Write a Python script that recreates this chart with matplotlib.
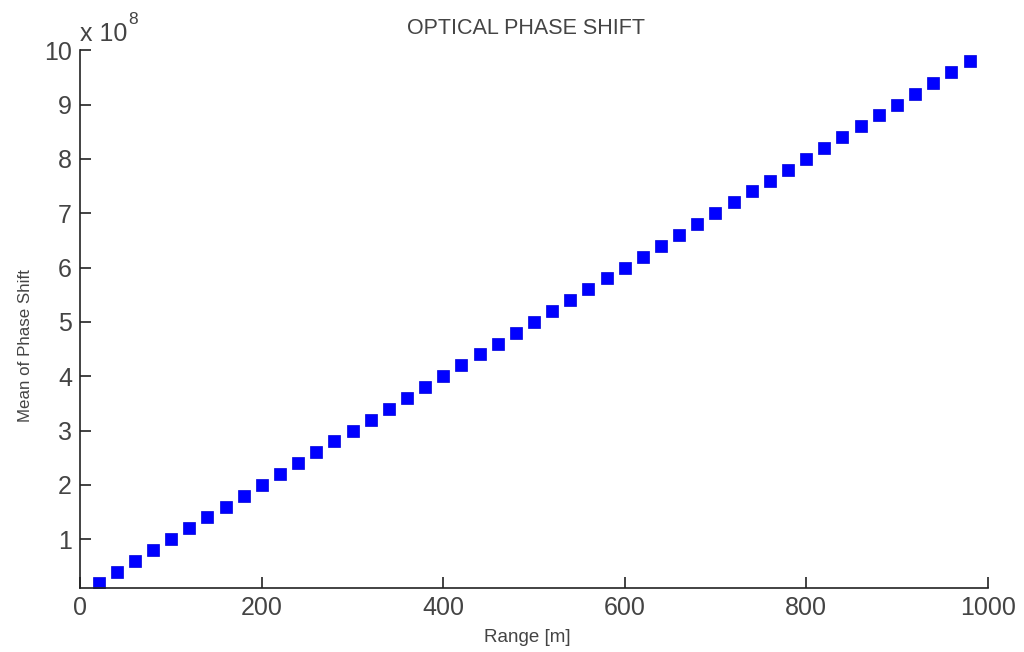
import numpy as np
import matplotlib
matplotlib.use("Agg")
import matplotlib.pyplot as plt

plt.rcParams['font.family'] = ['Liberation Sans', 'DejaVu Sans']

# range in metres
range_m = [20, 40, 60, 80, 100, 120, 140, 160, 180, 200,
           220, 240, 260, 280, 300, 320, 340, 360, 380, 400,
           420, 440, 460, 480, 500, 520, 540, 560, 580, 600,
           620, 640, 660, 680, 700, 720, 740, 760, 780, 800,
           820, 840, 860, 880, 900, 920, 940, 960, 980]
# mean phase shift, in units of 1e8
phase_mean = [0.2, 0.4, 0.6, 0.8, 1.0, 1.2, 1.4, 1.6, 1.8, 2.0,
              2.2, 2.4, 2.6, 2.8, 3.0, 3.2, 3.4, 3.6, 3.8, 4.0,
              4.2, 4.4, 4.6, 4.8, 5.0, 5.2, 5.4, 5.6, 5.8, 6.0,
              6.2, 6.4, 6.6, 6.8, 7.0, 7.2, 7.4, 7.6, 7.8, 8.0,
              8.2, 8.4, 8.6, 8.8, 9.0, 9.2, 9.4, 9.6, 9.8]
x_ticks = [0, 200, 400, 600, 800, 1000]
y_ticks = [1, 2, 3, 4, 5, 6, 7, 8, 9, 10]

txt_col = "#444444"

fig = plt.figure(figsize=(10.24, 6.52), dpi=100)
ax = fig.add_axes([0.0785, 0.098, 0.886, 0.825])

ax.plot(range_m, phase_mean, linestyle="none", marker="s", markersize=8.5,
        color=(0, 0, 1), markeredgecolor=(0, 0, 0.85), markeredgewidth=0.5)

ax.set_xlim(0, 1000)
ax.set_ylim(0.1, 10)
ax.set_xticks(x_ticks)
ax.set_yticks(y_ticks)
ax.set_xticklabels([str(t) for t in x_ticks])
ax.set_yticklabels([str(t) for t in y_ticks])

ax.spines['top'].set_visible(False)
ax.spines['right'].set_visible(False)
for s in ['left', 'bottom']:
    ax.spines[s].set_linewidth(1.2)
    ax.spines[s].set_color("#222222")
ax.tick_params(direction="in", length=8, width=1.2, color="#222222",
               labelsize=18, labelcolor=txt_col, pad=6)

ax.set_title("OPTICAL PHASE SHIFT", fontsize=15.5, color=txt_col,
             x=0.491, pad=12)
ax.set_xlabel("Range [m]", fontsize=13.5, color=txt_col)
ax.set_ylabel("Mean of Phase Shift", fontsize=12.2, color=txt_col)
ax.xaxis.set_label_coords(0.493, -0.076)
ax.yaxis.set_label_coords(-0.052, 0.45)

# exponent label like MATLAB
ax.text(0.0, 1.008, "x 10", transform=ax.transAxes, fontsize=18,
        color=txt_col, ha="left", va="bottom")
ax.text(0.053, 1.043, "8", transform=ax.transAxes, fontsize=12.5,
        color=txt_col, ha="left", va="bottom")

fig.savefig("out.png", dpi=100)
